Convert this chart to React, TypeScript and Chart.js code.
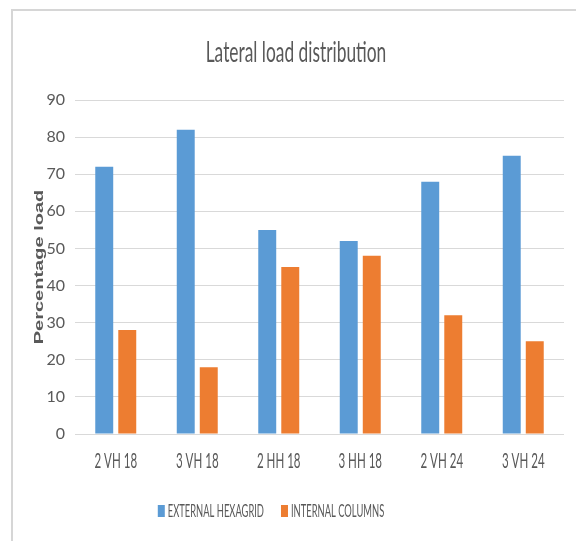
import { useEffect, useRef } from "react";
import { Chart, registerables } from "chart.js";

Chart.register(...registerables);

// Data
const categories = ["2 VH 18", "3 VH 18", "2 HH 18", "3 HH 18", "2 VH 24", "3 VH 24"];
const externalHexagrid = [72, 82, 55, 52, 68, 75];
const internalColumns = [28, 18, 45, 48, 32, 25];
const seriesNames = ["EXTERNAL HEXAGRID", "INTERNAL COLUMNS"];
const yMin = 0;
const yMax = 90;
const yStep = 10;
const chartTitle = "Lateral load distribution";
const yAxisTitle = "Percentage load";

// Styling
const BLUE = "#5B9BD5";
const ORANGE = "#ED7D31";
const TEXT = "#595959";
const GRID = "#d9d9d9";
const FONT = "Lato, 'Open Sans', 'Liberation Sans', sans-serif";

function condensedText(
  ctx: CanvasRenderingContext2D,
  text: string,
  x: number,
  y: number,
  sx: number,
  font: string,
  align: CanvasTextAlign
) {
  ctx.save();
  ctx.font = font;
  ctx.fillStyle = TEXT;
  ctx.textBaseline = "alphabetic";
  ctx.textAlign = align;
  ctx.translate(x, y);
  ctx.scale(sx, 1);
  ctx.fillText(text, 0, 0);
  ctx.restore();
}

const decorations = {
  id: "decorations",
  beforeDraw(chart: any) {
    const ctx: CanvasRenderingContext2D = chart.ctx;
    ctx.save();
    ctx.fillStyle = "#ffffff";
    ctx.fillRect(0, 0, chart.width, chart.height);
    // chart frame (top and left edges)
    ctx.strokeStyle = "#d6d6d6";
    ctx.lineWidth = 2;
    ctx.beginPath();
    ctx.moveTo(12, chart.height);
    ctx.lineTo(12, 10);
    ctx.lineTo(chart.width, 10);
    ctx.stroke();
    ctx.restore();
  },
  afterDraw(chart: any) {
    const ctx: CanvasRenderingContext2D = chart.ctx;
    const xScale = chart.scales.x;
    const area = chart.chartArea;

    // title
    condensedText(ctx, chartTitle, 296, 62, 0.62, `28px ${FONT}`, "center");

    // category labels under each group
    categories.forEach((c, i) => {
      condensedText(ctx, c, xScale.getPixelForTick(i), 468, 0.55, `21px ${FONT}`, "center");
    });

    // vertical axis title
    ctx.save();
    ctx.font = `bold 20px 'Liberation Sans', Arial, sans-serif`;
    ctx.fillStyle = TEXT;
    ctx.textAlign = "center";
    ctx.textBaseline = "middle";
    ctx.translate(39, (area.top + area.bottom) / 2);
    ctx.rotate(-Math.PI / 2);
    ctx.scale(1, 0.68);
    ctx.fillText(yAxisTitle, 0, 0);
    ctx.restore();

    // legend
    const legendFont = `18px ${FONT}`;
    const sx = 0.52;
    const boxW = 7;
    const boxH = 12;
    const gap = 3;
    const spacing = 17;
    ctx.save();
    ctx.font = legendFont;
    const widths = chart.data.datasets.map(
      (d: any) => boxW + gap + ctx.measureText(d.label).width * sx
    );
    ctx.restore();
    const total = widths.reduce((a: number, b: number) => a + b, 0) + spacing * (widths.length - 1);
    let lx = 271 - total / 2;
    chart.data.datasets.forEach((d: any, i: number) => {
      ctx.save();
      ctx.fillStyle = d.backgroundColor;
      ctx.fillRect(lx, 505, boxW, boxH);
      ctx.restore();
      condensedText(ctx, d.label, lx + boxW + gap, 517, sx, legendFont, "left");
      lx += widths[i] + spacing;
    });
  },
};

export default function App() {
  const canvasRef = useRef<HTMLCanvasElement>(null);

  useEffect(() => {
    const chart = new Chart(canvasRef.current as HTMLCanvasElement, {
      type: "bar",
      data: {
        labels: categories,
        datasets: [
          {
            label: seriesNames[0],
            data: externalHexagrid,
            backgroundColor: BLUE,
            categoryPercentage: 0.565,
            barPercentage: 0.78,
          },
          {
            label: seriesNames[1],
            data: internalColumns,
            backgroundColor: ORANGE,
            categoryPercentage: 0.565,
            barPercentage: 0.78,
          },
        ],
      },
      options: {
        animation: false,
        responsive: true,
        maintainAspectRatio: false,
        layout: { padding: { top: 100, right: 12, left: 0, bottom: 0 } },
        plugins: {
          legend: { display: false },
          title: { display: false },
          tooltip: { enabled: false },
        },
        scales: {
          x: {
            ticks: { display: false },
            grid: { display: false },
            border: { display: false },
            afterFit: (s: any) => {
              s.height = 107;
            },
          },
          y: {
            min: yMin,
            max: yMax,
            ticks: {
              stepSize: yStep,
              padding: 10,
              color: TEXT,
              font: { family: FONT, size: 16 },
            },
            grid: { color: GRID, drawTicks: false, lineWidth: 1 },
            border: { display: false },
            afterFit: (s: any) => {
              s.width = 75;
            },
          },
        },
      },
      plugins: [decorations],
    });
    return () => chart.destroy();
  }, []);

  return (
    <div
      style={{
        position: "absolute",
        left: 0,
        top: 0,
        width: 576,
        height: 541,
        background: "#ffffff",
      }}
    >
      <canvas ref={canvasRef} />
    </div>
  );
}
